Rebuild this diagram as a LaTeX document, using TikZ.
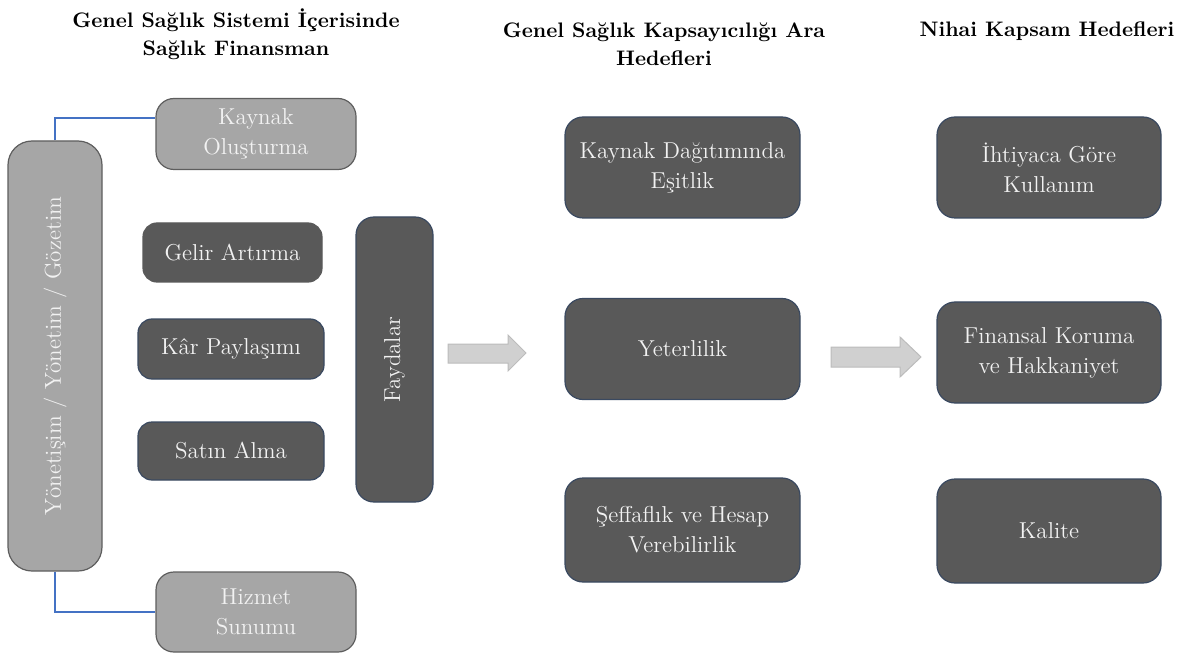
\documentclass[tikz,border=0pt]{standalone}
\definecolor{koyu}{HTML}{595959}
\definecolor{acik}{HTML}{A6A6A6}
\definecolor{kenar}{HTML}{3A4960}
\definecolor{gri}{HTML}{5E5E5E}
\definecolor{mavi}{HTML}{4472C4}
\definecolor{okdolgu}{HTML}{D0D0D0}
\definecolor{okkenar}{HTML}{BCBCBC}
\definecolor{yazi}{HTML}{F2F2F2}

\begin{document}
\begin{tikzpicture}[x=0.5pt,y=-0.5pt,
        kutu/.style={rounded corners=9pt,text=yazi,align=center,inner sep=0pt,
            line width=0.6pt,font=\fontsize{11.5}{15}\selectfont},
        koyukutu/.style={kutu,draw=kenar,fill=koyu},
        acikkutu/.style={kutu,draw=gri,fill=acik},
        baslik/.style={align=center,font=\bfseries\fontsize{10.5}{14}\selectfont},
        blokok/.style={fill=okdolgu,draw=okkenar,line width=0.5pt}]
            \useasboundingbox (0,0) rectangle (1181,657);

            % basliklar
            \node[baslik] (b1) at (236,34) {Genel Sağlık Sistemi İçerisinde\\Sağlık Finansman};
            \node[baslik] (b2) at (664,44) {Genel Sağlık Kapsayıcılığı Ara\\Hedefleri};
            \node[baslik] (b3) at (1047,31) {Nihai Kapsam Hedefleri};

            % sol blok
            \node[acikkutu,rotate=90,minimum width=215pt,minimum height=47pt,rounded corners=12pt]
                (gov) at (55,356) {Yönetişim / Yönetim / Gözetim};
            \node[acikkutu,minimum width=100pt,minimum height=35.5pt] (kaynak) at (256,134) {Kaynak\\Oluşturma};
            \node[acikkutu,minimum width=100pt,minimum height=40pt] (hizmet) at (256,612) {Hizmet\\Sunumu};

            \node[koyukutu,draw=koyu,minimum width=89.5pt,minimum height=29.5pt,rounded corners=7pt] (gelir) at (232.5,252.5) {Gelir Artırma};
            \node[koyukutu,minimum width=93pt,minimum height=30pt,rounded corners=7pt] (kar) at (231,349) {Kâr Paylaşımı};
            \node[koyukutu,minimum width=93pt,minimum height=29pt,rounded corners=7pt] (satin) at (231,451) {Satın Alma};
            \node[koyukutu,rotate=90,minimum width=142.5pt,minimum height=38.5pt] (fayda) at (394.5,359.5) {Faydalar};

            \draw[mavi,line width=0.6pt] (gov.east) |- ([yshift=8pt]kaynak.west);
            \draw[mavi,line width=0.6pt] (gov.west) |- (hizmet.west);

            % ara hedefler
            \node[koyukutu,minimum width=117.5pt,minimum height=50.5pt] (esitlik) at (682.5,167.5) {Kaynak Dağıtımında\\Eşitlik};
            \node[koyukutu,minimum width=117.5pt,minimum height=50.5pt] (yeter) at (682.5,349) {Yeterlilik};
            \node[koyukutu,minimum width=117.5pt,minimum height=52pt] (seffaf) at (682.5,530) {Şeffaflık ve Hesap\\Verebilirlik};

            % nihai hedefler
            \node[koyukutu,minimum width=112pt,minimum height=50.5pt] (ihtiyac) at (1049,167.5) {İhtiyaca Göre\\Kullanım};
            \node[koyukutu,minimum width=112pt,minimum height=50.5pt] (finans) at (1049,352.5) {Finansal Koruma\\ve Hakkaniyet};
            \node[koyukutu,minimum width=112pt,minimum height=52pt] (kalite) at (1049,531) {Kalite};

            % oklar
            \filldraw[blokok] (448,344) -- (508,344) -- (508,335) -- (526,353)
                -- (508,371) -- (508,363) -- (448,363) -- cycle;
            \filldraw[blokok] (831,347) -- (900,347) -- (900,337) -- (921,357)
                -- (900,377) -- (900,367) -- (831,367) -- cycle;
        \end{tikzpicture}
\end{document}
